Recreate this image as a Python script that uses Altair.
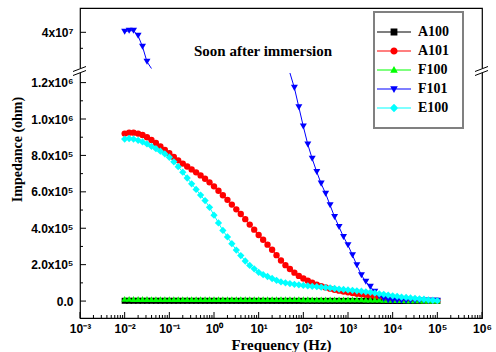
import altair as alt
import pandas as pd

# ---------------- data ----------------
freq = [0.01, 0.0126, 0.0158, 0.02, 0.0251, 0.0316, 0.0398, 0.0501, 0.0631, 0.0794,
        0.1, 0.126, 0.158, 0.2, 0.251, 0.316, 0.398, 0.501, 0.631, 0.794,
        1, 1.26, 1.58, 2, 2.51, 3.16, 3.98, 5.01, 6.31, 7.94,
        10, 12.6, 15.8, 20, 25.1, 31.6, 39.8, 50.1, 63.1, 79.4,
        100, 126, 158, 200, 251, 316, 398, 501, 631, 794,
        1000, 1260, 1580, 2000, 2510, 3160, 3980, 5010, 6310, 7940,
        10000, 12600, 15800, 20000, 25100, 31600, 39800, 50100, 63100, 79400,
        100000]

names = ["A100", "A101", "F100", "F101", "E100"]
colors = ["#000000", "#FF0000", "#00FF00", "#0000FF", "#00FFFF"]

a100 = [1600, 1600, 1550, 1550, 1500, 1500, 1500, 1500, 1450, 1450,
        1450, 1400, 1400, 1400, 1400, 1350, 1350, 1350, 1300, 1300,
        1300, 1300, 1250, 1250, 1250, 1200, 1200, 1200, 1200, 1150,
        1150, 1150, 1100, 1100, 1100, 1100, 1050, 1050, 1050, 1000,
        1000, 1000, 950, 950, 950, 900, 900, 900, 850, 850,
        800, 800, 750, 750, 700, 700, 650, 650, 600, 600,
        550, 550, 500, 500, 450, 450, 400, 400, 350, 350,
        300]

a101 = [920000, 925000, 925000, 920000, 912000, 900000, 885000, 868000, 850000, 830000,
        812000, 792000, 773000, 755000, 739000, 723000, 707000, 690000, 672000, 652000,
        630000, 606000, 581000, 556000, 530000, 504000, 478000, 450000, 420000, 392000,
        363000, 337000, 310000, 282000, 252000, 223000, 197000, 176000, 156000, 138000,
        124000, 112000, 101000, 90000, 82000, 75000, 68000, 62000, 57000, 52000,
        48000, 44000, 40000, 37000, 34000, 31000, 28000, 25000, 22000, 19000,
        16000, 13500, 11000, 9000, 7500, 6000, 5000, 4000, 3200, 2600,
        2000]

f100 = [11500, 11500, 11400, 11400, 11300, 11300, 11200, 11200, 11100, 11100,
        11000, 11000, 11000, 10900, 10900, 10900, 10800, 10800, 10800, 10700,
        10700, 10700, 10600, 10600, 10600, 10500, 10500, 10500, 10400, 10400,
        10400, 10300, 10300, 10300, 10200, 10200, 10200, 10100, 10100, 10100,
        10000, 10000, 9900, 9900, 9800, 9800, 9700, 9600, 9500, 9400,
        9300, 9100, 8900, 8700, 8400, 8100, 7800, 7400, 7000, 6500,
        6000, 5500, 5000, 4500, 4000, 3600, 3200, 2800, 2500, 2200,
        2000]

f101 = [40200000, 40500000, 40500000, 38900000, 35500000, 30800000, 26000000, None, None, None,
        None, None, None, None, None, None, None, None, None, None,
        None, None, None, None, None, None, None, None, None, None,
        None, None, None, None, None, None, None, 1280000, 1171000, 1065000,
        959000, 860000, 782000, 709000, 645000, 590000, 526000, 462000, 407000, 352000,
        307000, 252000, 197000, 142000, 106000, 78000, 51000, 26000, 12000, 5000,
        2500, 2000, 1800, 1600, 1500, 1400, 1300, 1200, 1100, 1000,
        1000]

e100 = [890000, 893000, 890000, 883000, 874000, 863000, 850000, 837000, 823000, 808000,
        790000, 765000, 738000, 708000, 676000, 644000, 613000, 582000, 552000, 515000,
        472000, 429000, 388000, 352000, 315000, 280000, 250000, 220000, 196000, 177000,
        158000, 145000, 135000, 124000, 114000, 105000, 100000, 96000, 92000, 89000,
        86000, 83000, 81000, 79000, 77000, 74000, 72000, 69000, 66000, 64000,
        61000, 59000, 56000, 54000, 51000, 48000, 44000, 40000, 37000, 33000,
        29000, 26000, 22000, 20000, 17500, 15000, 12500, 10000, 7000, 4500,
        2000]

x_tick_values = [1e-3, 1e-2, 1e-1, 1e0, 1e1, 1e2, 1e3, 1e4, 1e5, 1e6]
x_tick_labels = ["10⁻³", "10⁻²", "10⁻¹", "10⁰", "10¹", "10²", "10³", "10⁴", "10⁵", "10⁶"]
y_tick_values = [0, 2e5, 4e5, 6e5, 8e5, 1e6, 1.2e6, 4e7]
y_tick_labels = ["0.0", "2.0x10⁵", "4.0x10⁵", "6.0x10⁵", "8.0x10⁵", "1.0x10⁶", "1.2x10⁶", "4x10⁷"]
y_minor_values = [1e5, 3e5, 5e5, 7e5, 9e5, 1.1e6, 3.5e7]
x_minor_values = [k * 10.0 ** d for d in range(-3, 6) for k in range(2, 10)]

annotation = "Soon after immersion"

# ---------------- scales ----------------
W, H = 402, 310
LOW_MIN, LOW_MAX = -93000, 1.2527e6
UP_MIN, UP_MAX = 2.884e7, 4.76e7

xscale = alt.Scale(type="log", domain=[1e-3, 1e6], nice=False)
yscale = alt.Scale(type="linear", domain=[LOW_MIN, LOW_MAX, UP_MIN, UP_MAX],
                   range=[310, 65, 60, 0], nice=False, zero=False)

rows = []
for name, vals in zip(names, [a100, a101, f100, f101, e100]):
    for i, (f, v) in enumerate(zip(freq, vals)):
        if v is None:
            continue
        seg = "u" if (name == "F101" and i <= 6) else "l"
        vis = (v <= LOW_MAX) or (v >= UP_MIN)
        rows.append({"series": name, "f": f, "v": v, "seg": seg, "vis": vis})
df = pd.DataFrame(rows)

color_scale = alt.Scale(domain=names, range=colors)
shape_scale = alt.Scale(domain=names, range=["square", "circle", "triangle-up", "triangle-down", "diamond"])
size_scale = alt.Scale(domain=names, range=[36, 53, 45, 62, 53])

legend_paths = [
    "M-4.25,-0.13H4.25V0.13H-4.25ZM-0.85,-0.85H0.85V0.85H-0.85Z",
    "M-4.25,-0.13H4.25V0.13H-4.25ZM0.9,0A0.9,0.9,0,1,1,-0.9,0A0.9,0.9,0,1,1,0.9,0Z",
    "M-4.25,-0.13H4.25V0.13H-4.25ZM0,-1L0.95,0.7L-0.95,0.7Z",
    "M-4.25,-0.13H4.25V0.13H-4.25ZM0,1L-0.95,-0.7L0.95,-0.7Z",
    "M-4.25,-0.13H4.25V0.13H-4.25ZM0,-1.05L1.05,0L0,1.05L-1.05,0Z",
]

x_label_expr = "[" + ",".join("'" + s + "'" for s in x_tick_labels) + "][round(log(datum.value)/LN10)+3]"
y_label_expr = ""
for val, lab in zip(y_tick_values, y_tick_labels):
    y_label_expr += "datum.value == " + repr(float(val)) + " ? '" + lab + "' : "
y_label_expr += "''"

x_axis = alt.Axis(values=x_tick_values, labelExpr=x_label_expr, ticks=False, tickSize=0,
                  domain=False, grid=False, labelFont="Liberation Sans", labelFontSize=12,
                  labelFontWeight="bold", labelColor="black", labelPadding=5,
                  labelOverlap=False, labelFlush=False,
                  title="Frequency (Hz)", titleFont="Liberation Serif", titleFontSize=15,
                  titleFontWeight="bold", titleColor="black", titleY=31, titleBaseline="alphabetic")
y_axis = alt.Axis(values=y_tick_values, labelExpr=y_label_expr, ticks=False, tickSize=0,
                  domain=False, grid=False, labelFont="Liberation Sans", labelFontSize=12,
                  labelFontWeight="bold", labelColor="black", labelPadding=7,
                  labelOverlap=False, labelFlush=False,
                  title="Impedance (ohm)", titleFont="Liberation Serif", titleFontSize=14,
                  titleFontWeight="bold", titleColor="black", titleX=-63, titleY=141,
                  titleAngle=270, titleAlign="center", titleBaseline="middle")

X = alt.X("f:Q", scale=xscale, axis=x_axis)
Y = alt.Y("v:Q", scale=yscale, axis=y_axis)

lines = alt.Chart(df).mark_line(strokeWidth=1).encode(
    x=X, y=Y,
    color=alt.Color("series:N", scale=color_scale, legend=None),
    detail="seg:N",
)

points = alt.Chart(df).transform_filter("datum.vis").mark_point(filled=True, opacity=1).encode(
    x=X, y=Y,
    color=alt.Color("series:N", scale=color_scale, legend=None),
    shape=alt.Shape("series:N", scale=shape_scale, legend=None),
    size=alt.Size("series:N", scale=size_scale, legend=None),
)

leg = alt.Legend(orient="none", legendX=294, legendY=4, title=None, padding=13, rowPadding=5,
                 labelFont="Liberation Serif", labelFontSize=14, labelFontWeight="bold",
                 labelColor="black", labelOffset=17, strokeColor="#808080",
                 symbolSize=64, symbolStrokeWidth=0, symbolOpacity=1)

legend_layer = alt.Chart(df).transform_filter("false").mark_point(filled=True, opacity=1, size=64).encode(
    x=X, y=Y,
    color=alt.Color("series:N", scale=alt.Scale(domain=names, range=colors), legend=leg),
    shape=alt.Shape("series:N", scale=alt.Scale(domain=names, range=legend_paths), legend=leg),
)

# axis ticks (inward)
ytick_df = pd.DataFrame({"v": y_tick_values})
yminor_df = pd.DataFrame({"v": y_minor_values})
xtick_df = pd.DataFrame({"f": x_tick_values})
xminor_df = pd.DataFrame({"f": x_minor_values})

ymaj = alt.Chart(ytick_df).mark_rule(color="black", strokeWidth=1).encode(
    y=Y, x=alt.value(0), x2=alt.value(6))
ymin = alt.Chart(yminor_df).mark_rule(color="black", strokeWidth=1).encode(
    y=Y, x=alt.value(0), x2=alt.value(3))
xmaj = alt.Chart(xtick_df).mark_rule(color="black", strokeWidth=1).encode(
    x=X, y=alt.value(H), y2=alt.value(H - 6))
xmin = alt.Chart(xminor_df).mark_rule(color="black", strokeWidth=1).encode(
    x=X, y=alt.value(H), y2=alt.value(H - 3))

one = alt.Data(values=[{}])
breaks = []
for xc in [0, W]:
    breaks.append(alt.Chart(one).mark_rule(color="white", strokeWidth=4).encode(
        x=alt.value(xc), y=alt.value(60.3), y2=alt.value(64.7)))
    for dy in [0, 4]:
        breaks.append(alt.Chart(one).mark_rule(color="black", strokeWidth=1).encode(
            x=alt.value(xc - 7), x2=alt.value(xc + 6),
            y=alt.value(63.5 + dy), y2=alt.value(58.5 + dy)))

text = alt.Chart(alt.Data(values=[{"t": annotation}])).mark_text(
    font="Liberation Serif", fontSize=15, fontWeight="bold", align="center",
    baseline="middle", color="black").encode(
    x=alt.value(183), y=alt.value(43), text="t:N")

chart = alt.layer(lines, points, legend_layer, ymaj, ymin, xmaj, xmin, *breaks, text).resolve_scale(
    color="independent", shape="independent"
).properties(
    width=W, height=H,
    autosize=alt.AutoSizeParams(type="none"),
    padding={"left": 80, "top": 8, "right": 14, "bottom": 34},
    background="white",
).configure_view(stroke="black", strokeWidth=1.2).configure_legend(strokeWidth=2)

chart.save("out.html", embed_options={"renderer": "svg", "actions": False})
